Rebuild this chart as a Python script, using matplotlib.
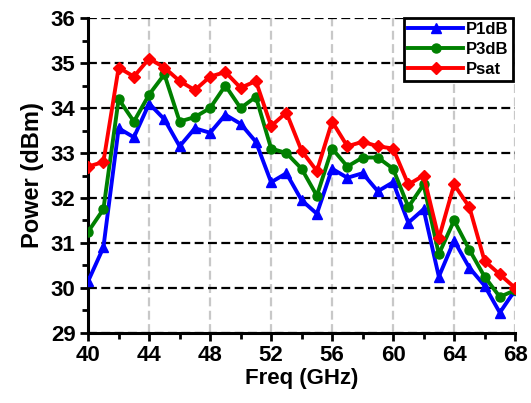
import matplotlib

matplotlib.use("Agg")
import matplotlib.pyplot as plt
from matplotlib.ticker import MultipleLocator

plt.rcParams["font.family"] = ["Liberation Sans", "DejaVu Sans"]
plt.rcParams["font.weight"] = "bold"

freq = list(range(40, 69))
p1db = [30.15, 30.9, 33.55, 33.35, 34.1, 33.75, 33.15, 33.55, 33.45, 33.85, 33.65, 33.25,
        32.35, 32.55, 31.95, 31.65, 32.65, 32.45, 32.55, 32.15, 32.35, 31.45, 31.75,
        30.25, 31.05, 30.45, 30.05, 29.45, 29.95]
p3db = [31.25, 31.75, 34.2, 33.7, 34.3, 34.75, 33.7, 33.8, 34.0, 34.5, 34.0, 34.25,
        33.1, 33.0, 32.65, 32.05, 33.1, 32.7, 32.9, 32.9, 32.65, 31.8, 32.3,
        30.75, 31.5, 30.85, 30.25, 29.8, 29.95]
psat = [32.7, 32.8, 34.9, 34.7, 35.1, 34.9, 34.6, 34.4, 34.7, 34.8, 34.45, 34.6,
        33.6, 33.9, 33.05, 32.6, 33.7, 33.15, 33.25, 33.15, 33.1, 32.3, 32.5,
        31.1, 32.3, 31.8, 30.6, 30.3, 30.0]

fig = plt.figure(figsize=(5.31, 4.03), dpi=100)
ax = fig.add_axes([0.166, 0.174, 0.804, 0.781])

ax.plot(freq, p1db, color="#0000ff", marker="^", ms=7, lw=2.8, label="P1dB", zorder=3)
ax.plot(freq, p3db, color="#008000", marker="o", ms=6.5, lw=2.8, label="P3dB", zorder=3)
ax.plot(freq, psat, color="#ff0000", marker="D", ms=6, lw=2.8, label="Psat", zorder=3)

ax.set_xlim(40, 68)
ax.set_ylim(29, 36)
ax.xaxis.set_major_locator(MultipleLocator(4))
ax.xaxis.set_minor_locator(MultipleLocator(2))
ax.yaxis.set_major_locator(MultipleLocator(1))
ax.yaxis.set_minor_locator(MultipleLocator(0.5))

ax.yaxis.grid(True, color="black", ls=(0, (4, 2)), lw=1.6)
ax.xaxis.grid(True, color="#c8c8c8", ls=(0, (4, 2)), lw=1.6)
ax.set_axisbelow(True)

for side in ["top", "right"]:
    ax.spines[side].set_visible(False)
for side in ["left", "bottom"]:
    ax.spines[side].set_linewidth(2.2)

ax.tick_params(which="major", direction="out", length=6, width=2, labelsize=16, pad=3)
ax.tick_params(which="minor", direction="out", length=4, width=2)
for lab in ax.get_xticklabels() + ax.get_yticklabels():
    lab.set_fontweight("bold")

ax.set_xlabel("Freq (GHz)", fontsize=16, fontweight="bold", labelpad=1)
ax.set_ylabel("Power (dBm)", fontsize=17, fontweight="bold", labelpad=5)

leg = ax.legend(loc="upper right", bbox_to_anchor=(1.003, 1.012), fontsize=12, fancybox=False,
                framealpha=1, edgecolor="black", handlelength=3.3, borderpad=0.25,
                labelspacing=0.3, handletextpad=0.2, borderaxespad=0.2)
leg.get_frame().set_linewidth(2)
for t in leg.get_texts():
    t.set_fontweight("bold")

fig.savefig("out.png", dpi=100)
